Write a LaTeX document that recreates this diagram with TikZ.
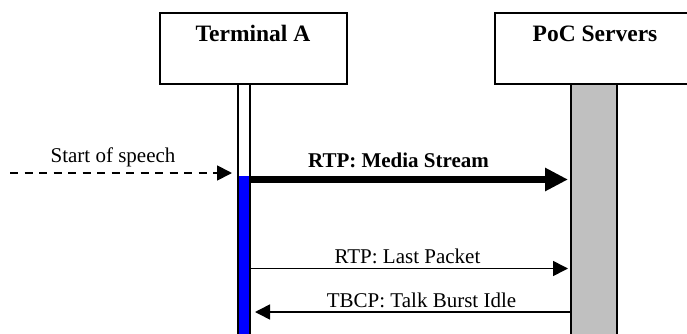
\documentclass[tikz,border=0pt]{standalone}
\usepackage{fontspec}
\setmainfont{Liberation Serif}
\usetikzlibrary{arrows.meta}
\definecolor{srvgray}{RGB}{192,192,192}
\definecolor{actblue}{RGB}{0,0,255}
\begin{document}
\begin{tikzpicture}[x=1pt,y=-1pt,
  lbl/.style={font=\fontsize{21}{24}\selectfont, inner sep=0pt, anchor=base},
  hlbl/.style={font=\fontsize{23.5}{27}\selectfont\bfseries, inner sep=0pt, anchor=base},
  hdr/.style={draw, line width=1.5pt, fill=white, inner sep=0pt},
  life/.style={draw, line width=1.5pt, inner sep=0pt},
  msg/.style={line width=1.6pt, -{Triangle[length=15pt,width=15pt]}},
  bigmsg/.style={line width=7pt, -{Triangle[length=23pt,width=22pt]}}]
\useasboundingbox (0,0) rectangle (687,334);
\begin{scope}
\clip (0,0) rectangle (687,334);
% header boxes
\node[hdr, minimum width=187pt, minimum height=71pt] (ta) at (253.5,48.5) {};
\node[hdr, minimum width=205pt, minimum height=71pt] (pb) at (597.5,48.5) {};
% lifelines
\node[life, fill=white, minimum width=12pt, minimum height=262pt] (la) at (244,215) {};
\fill[actblue] (238,176) rectangle (250,346);
\draw[line width=1.5pt] (238,84) -- (238,346) (250,84) -- (250,346);
\node[life, fill=srvgray, minimum width=46pt, minimum height=262pt] (lb) at (594,215) {};
\end{scope}
\node[hlbl] (tat) at (253,42) {Terminal A};
\node[hlbl] (pbt) at (595,42) {PoC Servers};
% start of speech
\coordinate (s0) at (10,173);
\coordinate (s1) at (232,173);
\draw[line width=1.8pt, dash pattern=on 8pt off 6.5pt, -{Triangle[length=15pt,width=15pt]}] (s0) -- (s1);
\node[lbl] (sl) at (113,162) {Start of speech};
% media stream
\coordinate (m0) at (250,179.5);
\coordinate (m1) at (568,179.5);
\draw[bigmsg] (m0) -- (m1);
\node[lbl] (ml) at (398.5,167) {\textbf{RTP: Media Stream}};
% last packet
\coordinate (p0) at (250,268.5);
\coordinate (p1) at (568,268.5);
\draw[msg] (p0) -- (p1);
\node[lbl] (pl) at (407.5,263) {RTP: Last Packet};
% talk burst idle
\coordinate (t0) at (571,312);
\coordinate (t1) at (255,312);
\draw[msg] (t0) -- (t1);
\node[lbl] (tl) at (421.5,307) {TBCP: Talk Burst Idle};
\end{tikzpicture}
\end{document}
